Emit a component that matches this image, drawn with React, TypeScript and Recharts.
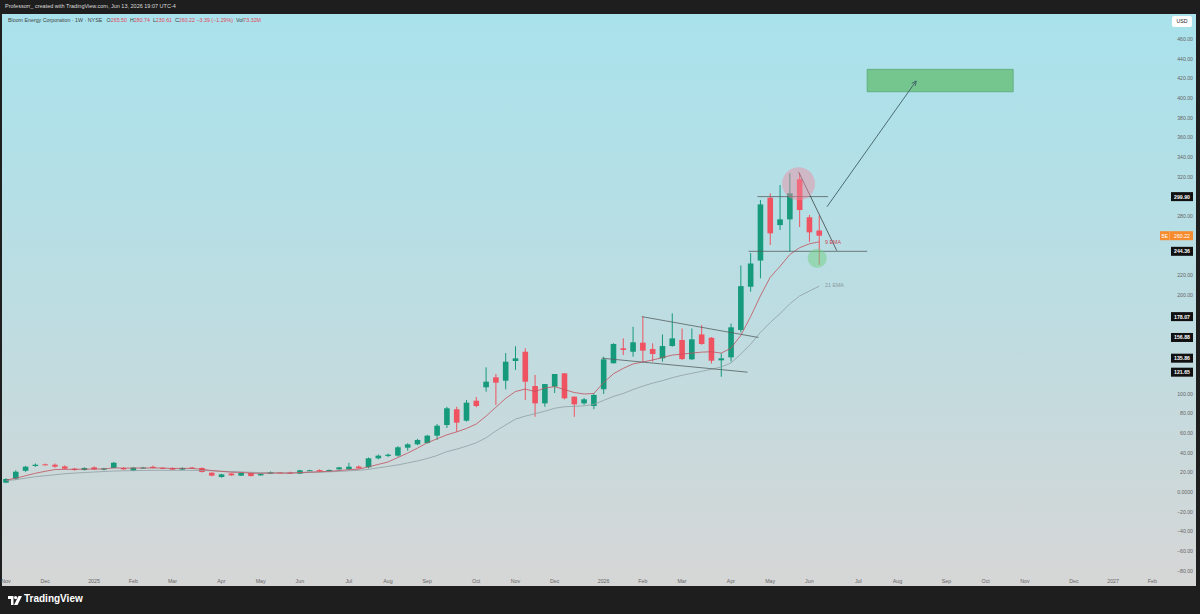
import React from 'react';
import { ComposedChart, Bar, Line, XAxis, YAxis, ReferenceLine, ReferenceArea, ReferenceDot } from 'recharts';

// weekly candles, Nov 4 2024 -> Jun 8 2026
const opens = [
  9.5, 13.5, 21.5, 26.4, 28.1, 27.7, 26, 23.7, 22.3, 25,
  22.7, 24.4, 24.4, 21.7, 24.6, 25.6, 24.5, 24.4, 22.7, 24.8,
  24.4, 19.6, 15.2, 18.8, 16.6, 19.3, 16.9, 18.6, 19.8, 20,
  18.6, 21.8, 22.3, 21.2, 23, 23, 25.8, 25.1, 34.2, 36.6,
  36.9, 45, 48.4, 49.7, 57.2, 68, 84, 72.4, 92.7, 106.3,
  116.4, 113, 133, 142.4, 107.6, 90, 107, 120.5, 96.8, 90,
  87.3, 104.3, 130.7, 145.9, 142.4, 151.6, 145.2, 135.7, 148.2, 154.3,
  134.7, 160, 156.6, 133.7, 136.7, 164.5, 208.4, 235, 298.8, 271,
  276.8, 317.5, 278.9, 265.5,
];
const highs = [
  14, 22, 26.5, 29, 28.8, 29, 27, 24.5, 25, 26,
  24.5, 30.5, 25.3, 25.2, 25.5, 26.8, 25, 25, 25, 25.5,
  25, 20, 18.5, 19.3, 19.8, 19.8, 18.8, 20.8, 20.4, 20.6,
  22.5, 22.6, 23, 22.8, 25.5, 29.7, 27, 35, 38, 39,
  46.5, 49.5, 54, 58, 69, 86.5, 86.5, 93.5, 96.5, 126.6,
  119.8, 141, 148, 146, 118.8, 109.6, 119.8, 120.8, 97, 95.5,
  100.2, 137.4, 151, 156, 167.8, 178, 151, 160, 181.4, 166,
  166, 169.5, 157.3, 140.8, 171, 230, 242.6, 296.4, 303.2, 311.7,
  323.5, 323.5, 281.2, 280.74,
];
const lows = [
  9, 12.5, 20.5, 25.5, 26.8, 24.5, 23, 21.8, 21.8, 22.5,
  22, 24, 22.5, 21.2, 24, 24, 23.3, 22.2, 22.3, 23.6,
  19.8, 16, 14.5, 16.5, 16.2, 15.8, 16.5, 18.2, 19, 18.3,
  18.2, 21.2, 20.6, 20.8, 22.5, 22.6, 23.8, 24, 33.2, 35.5,
  35.8, 42, 47.5, 49.3, 53, 65, 61.2, 71.5, 86, 101.8,
  88.3, 104.3, 124, 93.4, 76.4, 86.5, 100.5, 94, 76.4, 88.5,
  84, 99.5, 130.5, 139, 137.4, 132.3, 132.5, 132.3, 147.5, 134,
  134, 149.5, 130.5, 117, 132.5, 162, 203.4, 217, 250.8, 266,
  244, 269, 254, 230.61,
];
const closes = [
  13.2, 20.6, 25.7, 27.7, 27.2, 25.7, 23.7, 22.3, 24.4, 23,
  24, 29.7, 23, 24.7, 24.8, 24.4, 24, 22.7, 24.4, 24.2,
  20.3, 16.6, 17.9, 16.9, 19.3, 16.2, 18.3, 20.3, 19.4, 18.6,
  22, 22.1, 21, 22.4, 25, 25.7, 24, 34.2, 36.9, 37.9,
  45.4, 48.4, 52.8, 57.2, 67.3, 85, 70.4, 90.7, 87.3, 112,
  111, 132.3, 135.7, 112, 90, 109.6, 119.8, 95.1, 89, 94.1,
  98.5, 134.7, 150.3, 144.2, 152, 143.5, 140.1, 148.2, 156, 135,
  155, 150.3, 133.3, 135.7, 167.2, 209, 232, 292, 262.6, 276.8,
  303.2, 286.3, 263.61, 260.22,
];
const ema9 = [
  12, 14, 16.5, 19, 21, 22.8, 23, 23, 23.2, 23.3,
  23.4, 24.5, 24.2, 24.3, 24.4, 24.4, 24.3, 23.9, 24, 24,
  23, 21.8, 20.9, 20.1, 19.9, 19.1, 18.9, 19.2, 19.2, 19.1,
  19.7, 20.2, 20.6, 21, 21.8, 22.6, 23.2, 25.5, 28, 30.5,
  35, 39.5, 44.5, 50, 54, 58, 61, 64.5, 69, 77,
  86, 95, 102, 104.5, 102, 105.5, 107, 104, 101, 99.5,
  100, 111, 120, 125.5, 130, 132, 134, 136.5, 139, 140,
  141, 142, 142.4, 141, 146, 159, 178, 199, 218, 229,
  241, 248, 252, 254,
];
const ema21 = [
  11.5, 12.5, 14, 15.5, 16.5, 17.5, 18.5, 19.2, 19.8, 20.3,
  20.8, 21.3, 21.5, 21.7, 21.9, 22, 22, 22, 22, 22,
  21.8, 21.5, 21.1, 20.7, 20.4, 20, 19.7, 19.6, 19.5, 19.4,
  19.6, 19.8, 20, 20.5, 20.9, 21.5, 22, 23, 24.5, 26,
  27.5, 29.5, 31.5, 34, 37, 41, 43.5, 46.5, 50, 55,
  62, 68, 74, 77, 79.5, 82, 85, 86.5, 87, 87.5,
  89, 93, 97, 100, 104, 107.5, 110.5, 113, 116, 118.5,
  120.5, 122.5, 124.5, 127, 131, 140, 150, 162, 172, 181,
  191, 199, 204, 209,
];

const timeTicks: [string, string][] = [
  ['2024-11-04', 'Nov'], ['2024-12-02', 'Dec'], ['2025-01-06', '2025'], ['2025-02-03', 'Feb'],
  ['2025-03-03', 'Mar'], ['2025-04-07', 'Apr'], ['2025-05-05', 'May'], ['2025-06-02', 'Jun'],
  ['2025-07-07', 'Jul'], ['2025-08-04', 'Aug'], ['2025-09-01', 'Sep'], ['2025-10-06', 'Oct'],
  ['2025-11-03', 'Nov'], ['2025-12-01', 'Dec'], ['2026-01-05', '2026'], ['2026-02-02', 'Feb'],
  ['2026-03-02', 'Mar'], ['2026-04-06', 'Apr'], ['2026-05-04', 'May'], ['2026-06-01', 'Jun'],
  ['2026-07-06', 'Jul'], ['2026-08-03', 'Aug'], ['2026-09-07', 'Sep'], ['2026-10-05', 'Oct'],
  ['2026-11-02', 'Nov'], ['2026-12-07', 'Dec'], ['2027-01-04', '2027'], ['2027-02-01', 'Feb'],
];
const priceTicks = [460, 440, 420, 400, 380, 360, 340, 320, 300, 280, 260, 240, 220, 200, 180, 160, 140, 120, 100, 80, 60, 40, 20, 0, -20, -40, -60, -80];

// drawings (x = week index, y = price)
const tagPrices = [299.9, 244.36, 178.07, 156.88, 135.86, 121.65];
const lastPrice = 260.22;
const upperTrend = [{ x: 64.9, y: 178.07 }, { x: 76.8, y: 156.88 }];
const lowerTrend = [{ x: 60.8, y: 135.86 }, { x: 75.7, y: 121.65 }];
const resistance = [{ x: 76.7, y: 299.9 }, { x: 83.9, y: 299.9 }];
const support = [{ x: 75.8, y: 244.36 }, { x: 87.9, y: 244.36 }];
const wedgeEdge = [{ x: 80.9, y: 325 }, { x: 84.8, y: 245 }];
const targetArrow = [{ x: 83.8, y: 289.6 }, { x: 92.9, y: 417.3 }];
const targetZone = { x1: 87.9, x2: 102.8, y1: 406.4, y2: 429.1 };
const topCircle = { x: 80.9, y: 313 };
const dipCircle = { x: 82.8, y: 237.3 };

const TOTAL_WEEKS = 119;
const START = Date.UTC(2024, 10, 4);
const tickMap = new Map(timeTicks);

const rows = Array.from({ length: TOTAL_WEEKS }, (_, i) => {
  const date = new Date(START + i * 7 * 86400000).toISOString().slice(0, 10);
  if (i >= opens.length) return { date, idx: i, range: null };
  return {
    date, idx: i,
    open: opens[i], high: highs[i], low: lows[i], close: closes[i],
    range: [lows[i], highs[i]],
    ema9: ema9[i], ema21: ema21[i],
  };
});

const UP = '#159a7c';
const DOWN = '#ef5361';
const FONT = '"Liberation Sans", Arial, sans-serif';

const Candle = (props: any) => {
  const { x, y, width, height, payload } = props;
  if (!payload || payload.open == null) return <g />;
  const { open, close, high, low } = payload;
  const top = Math.min(y, y + height);
  const h = Math.abs(height);
  const ppu = high > low ? h / (high - low) : 0;
  const at = (v: number) => top + (high - v) * ppu;
  const cx = x + width / 2;
  const color = close >= open ? UP : DOWN;
  const bTop = at(Math.max(open, close));
  const bH = Math.max(1, Math.abs(at(open) - at(close)));
  return (
    <g>
      <line x1={cx} x2={cx} y1={top} y2={top + h} stroke={color} strokeWidth={1} />
      <rect x={cx - 2.8} y={bTop} width={5.6} height={bH} fill={color} />
    </g>
  );
};

const TimeTick = (props: any) => {
  const label = tickMap.get(props.payload?.value);
  if (!label) return <g />;
  return (
    <text x={props.x} y={props.y + 7} textAnchor="middle" fontSize={5.3} fill="#666" fontFamily={FONT}>
      {label}
    </text>
  );
};

const fmtPrice = (v: number) => (v === 0 ? '0.0000' : (v < 0 ? '\u2212' : '') + Math.abs(v).toFixed(2));

// a price label sitting under one of the axis tags is hidden, like TradingView does
const coveredByTag = (v: number) => [...tagPrices, lastPrice].some((t) => Math.abs(t - v) < 6.5);

const PriceTick = (props: any) => {
  const v = props.payload.value;
  if (coveredByTag(v)) return <g />;
  return (
    <text x={props.x + 24} y={props.y + 2} textAnchor="end" fontSize={5.2} fill="#666" fontFamily={FONT}>
      {fmtPrice(v)}
    </text>
  );
};

const tagShape = (value: number) => (p: any) => {
  const right = Math.max(p.x1, p.x2);
  return (
    <g>
      <rect x={right + 4} y={p.y1 - 4.5} width={22} height={9} fill="#111" />
      <text x={right + 15} y={p.y1 + 2} textAnchor="middle" fontSize={5.2} fontWeight="bold" fill="#fff" fontFamily={FONT}>
        {value.toFixed(2)}
      </text>
    </g>
  );
};

const lastShape = (p: any) => {
  const right = Math.max(p.x1, p.x2);
  return (
    <g>
      <rect x={right - 7} y={p.y1 - 4.5} width={33} height={9} fill="#f68c2e" />
      <line x1={right + 2.5} x2={right + 2.5} y1={p.y1 - 4.5} y2={p.y1 + 4.5} stroke="#f9b57a" strokeWidth={0.6} />
      <text x={right - 2.3} y={p.y1 + 2} textAnchor="middle" fontSize={4.8} fill="#fff" fontFamily={FONT}>BE</text>
      <text x={right + 15} y={p.y1 + 2} textAnchor="middle" fontSize={5.2} fill="#fff" fontFamily={FONT}>{lastPrice.toFixed(2)}</text>
    </g>
  );
};

const arrowShape = (p: any) => {
  const ang = Math.atan2(p.y2 - p.y1, p.x2 - p.x1);
  const len = 5;
  const a1 = ang + Math.PI - 0.45;
  const a2 = ang + Math.PI + 0.45;
  return (
    <g stroke="#3f5f66" strokeWidth={0.9} fill="none">
      <line x1={p.x1} y1={p.y1} x2={p.x2} y2={p.y2} />
      <path d={`M${p.x2 + len * Math.cos(a1)},${p.y2 + len * Math.sin(a1)} L${p.x2},${p.y2} L${p.x2 + len * Math.cos(a2)},${p.y2 + len * Math.sin(a2)}`} />
    </g>
  );
};

const textShape = (label: string, color: string) => (p: any) => (
  <text x={p.cx} y={p.cy + 2} fontSize={5.3} fill={color} fontFamily={FONT}>{label}</text>
);

const Logo = () => (
  <svg width={14} height={10} viewBox="0 0 14 10" style={{ position: 'absolute', left: 8, top: 596 }}>
    <path d="M0 0 H5.5 V9 H3 V3 H0 Z" fill="#fff" />
    <circle cx={7.6} cy={1.6} r={1.6} fill="#fff" />
    <path d="M10.5 0 H14 L9.5 9 H6 Z" fill="#fff" />
  </svg>
);

export default function App() {
  return (
    <div style={{ position: 'relative', width: 1200, height: 614, background: '#1e1e1e', overflow: 'hidden', fontFamily: FONT }}>
      <style>{'body{margin:0}'}</style>
      <div style={{ position: 'absolute', left: 5, top: 3, fontSize: 5.5, color: '#ddd', whiteSpace: 'nowrap' }}>
        Professorr_ created with TradingView.com, Jun 13, 2026 19:07 UTC-4
      </div>
      <div
        style={{
          position: 'absolute', left: 2, top: 14, width: 1194, height: 572,
          background: 'linear-gradient(to bottom, #a9e2ec 0%, #bcdde2 50%, #d6d6d6 100%)',
        }}
      />
      <div style={{ position: 'absolute', left: 1, top: 14 }}>
        <ComposedChart width={1195} height={572} data={rows} margin={{ top: 0, right: 0, bottom: 0, left: 0 }}>
          <XAxis xAxisId="cat" dataKey="date" type="category" height={12} interval={0} axisLine={false} tickLine={false} tickSize={0} tick={<TimeTick />} />
          <XAxis xAxisId="num" dataKey="idx" type="number" domain={[-0.5, TOTAL_WEEKS - 0.5]} allowDataOverflow hide />
          <YAxis
            orientation="right" width={29} type="number" domain={[-83.25, 485.3]} allowDataOverflow
            ticks={priceTicks} interval={0} axisLine={false} tickLine={false} tickSize={0} tick={<PriceTick />}
          />
          <ReferenceArea
            xAxisId="num" x1={targetZone.x1} x2={targetZone.x2} y1={targetZone.y1} y2={targetZone.y2}
            fill="#74c68e" fillOpacity={1} stroke="#5aa677" strokeWidth={0.8} ifOverflow="visible"
          />
          <Bar xAxisId="cat" dataKey="range" shape={<Candle />} isAnimationActive={false} />
          <Line xAxisId="cat" dataKey="ema21" stroke="#8f9ea3" strokeWidth={0.8} dot={false} activeDot={false} isAnimationActive={false} />
          <Line xAxisId="cat" dataKey="ema9" stroke="#c2505c" strokeWidth={0.8} dot={false} activeDot={false} isAnimationActive={false} />
          <ReferenceLine xAxisId="num" segment={upperTrend} stroke="#55605f" strokeWidth={0.8} ifOverflow="visible" />
          <ReferenceLine xAxisId="num" segment={lowerTrend} stroke="#55605f" strokeWidth={0.8} ifOverflow="visible" />
          <ReferenceLine xAxisId="num" segment={resistance} stroke="#55605f" strokeWidth={0.8} ifOverflow="visible" />
          <ReferenceLine xAxisId="num" segment={support} stroke="#55605f" strokeWidth={0.8} ifOverflow="visible" />
          <ReferenceLine xAxisId="num" segment={wedgeEdge} stroke="#3c4446" strokeWidth={0.8} ifOverflow="visible" />
          <ReferenceLine xAxisId="num" segment={targetArrow} shape={arrowShape} ifOverflow="visible" />
          <ReferenceDot xAxisId="num" x={topCircle.x} y={topCircle.y} r={16.5} fill="#f08aa0" fillOpacity={0.45} stroke="none" ifOverflow="visible" />
          <ReferenceDot xAxisId="num" x={dipCircle.x} y={dipCircle.y} r={9.5} fill="#72cf84" fillOpacity={0.5} stroke="none" ifOverflow="visible" />
          <ReferenceDot xAxisId="num" x={83.6} y={254.1} r={0} shape={textShape('9 EMA', '#c9485a')} ifOverflow="visible" />
          <ReferenceDot xAxisId="num" x={83.6} y={210.2} r={0} shape={textShape('21 EMA', '#8a989d')} ifOverflow="visible" />
          {tagPrices.map((v) => (
            <ReferenceLine key={v} y={v} stroke="none" shape={tagShape(v)} ifOverflow="visible" />
          ))}
          <ReferenceLine y={lastPrice} stroke="none" shape={lastShape} ifOverflow="visible" />
        </ComposedChart>
      </div>
      <div
        style={{
          position: 'absolute', left: 1172, top: 16, width: 20, height: 11, background: '#fff', borderRadius: 2,
          fontSize: 5.2, color: '#222', textAlign: 'center', lineHeight: '11px',
        }}
      >
        USD
      </div>
      <div style={{ position: 'absolute', left: 8, top: 16.5, fontSize: 5.3, whiteSpace: 'nowrap', color: '#444' }}>
        Bloom Energy Corporation · 1W · NYSE&nbsp;&nbsp;
        O<span style={{ color: '#e0485a' }}>265.50</span>&nbsp;
        H<span style={{ color: '#e0485a' }}>280.74</span>&nbsp;
        L<span style={{ color: '#e0485a' }}>230.61</span>&nbsp;
        C<span style={{ color: '#e0485a' }}>260.22</span>&nbsp;
        <span style={{ color: '#e0485a' }}>−3.39 (−1.29%)</span>&nbsp;
        Vol<span style={{ color: '#e0485a' }}>73.32M</span>
      </div>
      <Logo />
      <div style={{ position: 'absolute', left: 24, top: 593, fontSize: 10, fontWeight: 600, color: '#fff' }}>TradingView</div>
    </div>
  );
}
